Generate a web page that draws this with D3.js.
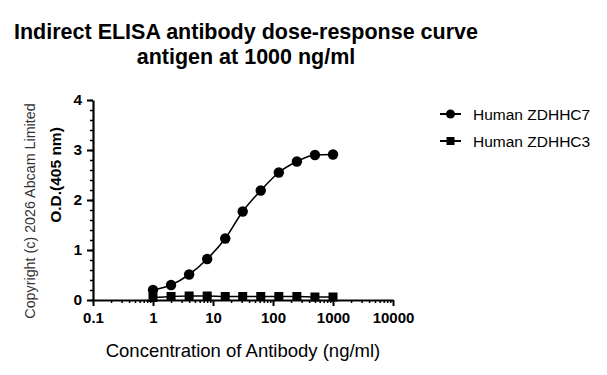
<!DOCTYPE html>
<html>
<head>
<meta charset="utf-8">
<script src="https://cdn.jsdelivr.net/npm/d3@7"></script>
<style>
  body { margin: 0; background: #fff; }
  svg { font-family: Arial, "Liberation Sans", sans-serif; }
</style>
</head>
<body>
<div id="chart"></div>
<script>
// data
const concentrations = [1, 2, 4, 8, 16, 31.25, 62.5, 125, 250, 500, 1000]
const zdhhc7 = [0.20, 0.30, 0.51, 0.82, 1.23, 1.77, 2.19, 2.55, 2.77, 2.90, 2.91]
const zdhhc3 = [0.05, 0.07, 0.08, 0.08, 0.07, 0.07, 0.07, 0.07, 0.07, 0.06, 0.06]
const seriesNames = ["Human ZDHHC7", "Human ZDHHC3"]
const xTicks = [0.1, 1, 10, 100, 1000, 10000]
const yTicks = [0, 1, 2, 3, 4]

const width = 607, height = 375
const margins = {top: 100, right: 214, bottom: 75, left: 93}
const boundedWidth = width - margins.left - margins.right
const boundedHeight = height - margins.top - margins.bottom

const svg = d3.select("#chart").append("svg")
  .attr("width", width)
  .attr("height", height)

// title
svg.append("text")
  .attr("x", 246).attr("y", 39)
  .attr("text-anchor", "middle")
  .style("font-weight", "bold").style("font-size", "21.5px")
  .text("Indirect ELISA antibody dose-response curve")
svg.append("text")
  .attr("x", 246).attr("y", 64)
  .attr("text-anchor", "middle")
  .style("font-weight", "bold").style("font-size", "21.5px")
  .text("antigen at 1000 ng/ml")

const bounds = svg.append("g")
  .attr("transform", `translate(${margins.left}, ${margins.top})`)

// scales
const xScale = d3.scaleLog().domain([0.1, 10000]).range([0, boundedWidth])
const yScale = d3.scaleLinear().domain([0, 4]).range([boundedHeight, 0])

// minor ticks
const xMinor = []
for (let e = -1; e < 4; e++) for (let m = 2; m <= 9; m++) xMinor.push(m * Math.pow(10, e))
const yMinor = d3.range(0, 4.01, 0.2)

bounds.append("g")
  .attr("transform", `translate(0, ${boundedHeight})`)
  .call(d3.axisBottom(xScale).tickValues(xMinor).tickSize(3).tickFormat(""))
  .call(g => g.select(".domain").remove())
  .selectAll("line").attr("stroke-width", 1.5)
bounds.append("g")
  .call(d3.axisLeft(yScale).tickValues(yMinor).tickSize(3).tickFormat(""))
  .call(g => g.select(".domain").remove())
  .selectAll("line").attr("stroke-width", 1.5)

const xAxis = bounds.append("g")
  .attr("transform", `translate(0, ${boundedHeight})`)
  .call(d3.axisBottom(xScale).tickValues(xTicks).tickSize(6).tickSizeOuter(0).tickPadding(6)
    .tickFormat(d => d3.format("~g")(d)))
xAxis.select(".domain").attr("stroke-width", 2.2)
xAxis.selectAll("line").attr("stroke-width", 2)
xAxis.selectAll("text").style("font-size", "15px").style("font-weight", "bold").attr("fill", "#000")

const yAxis = bounds.append("g")
  .call(d3.axisLeft(yScale).tickValues(yTicks).tickSize(6).tickSizeOuter(0).tickPadding(5)
    .tickFormat(d3.format("d")))
yAxis.select(".domain").attr("stroke-width", 2.2)
yAxis.selectAll("line").attr("stroke-width", 2)
yAxis.selectAll("text").style("font-size", "15.5px").style("font-weight", "bold").attr("fill", "#000")

// axis labels
svg.append("text")
  .attr("x", 243).attr("y", 357)
  .attr("text-anchor", "middle")
  .style("font-size", "18.5px")
  .text("Concentration of Antibody (ng/ml)")
svg.append("text")
  .attr("transform", "translate(61, 175) rotate(-90)")
  .attr("text-anchor", "middle")
  .style("font-size", "15.5px").style("font-weight", "bold")
  .text("O.D.(405 nm)")
svg.append("text")
  .attr("transform", "translate(35, 211) rotate(-90)")
  .attr("text-anchor", "middle")
  .style("font-size", "14.3px").attr("fill", "#333")
  .text("Copyright (c) 2026 Abcam Limited")

// lines
const line = d3.line()
  .x(d => xScale(d[0]))
  .y(d => yScale(d[1]))
  .curve(d3.curveMonotoneX)

const s7 = concentrations.map((c, i) => [c, zdhhc7[i]])
const s3 = concentrations.map((c, i) => [c, zdhhc3[i]])

bounds.append("path").datum(s3)
  .attr("d", line).attr("fill", "none").attr("stroke", "#000").attr("stroke-width", 1.5)
bounds.append("path").datum(s7)
  .attr("d", line).attr("fill", "none").attr("stroke", "#000").attr("stroke-width", 1.6)

bounds.selectAll("rect.pt").data(s3).enter().append("rect")
  .attr("class", "pt")
  .attr("x", d => xScale(d[0]) - 4.5).attr("y", d => yScale(d[1]) - 4.5)
  .attr("width", 9).attr("height", 9).attr("fill", "#000")

bounds.selectAll("circle.pt").data(s7).enter().append("circle")
  .attr("class", "pt")
  .attr("cx", d => xScale(d[0])).attr("cy", d => yScale(d[1]))
  .attr("r", 5.2).attr("fill", "#000")

// legend
const legend = svg.append("g").attr("transform", "translate(440, 114)")
seriesNames.forEach((name, i) => {
  const g = legend.append("g").attr("transform", `translate(0, ${i * 27})`)
  g.append("line").attr("x1", 0).attr("x2", 21).attr("stroke", "#000").attr("stroke-width", 2)
  if (i === 0) g.append("circle").attr("cx", 10.5).attr("r", 4.5)
  else g.append("rect").attr("x", 6.5).attr("y", -4).attr("width", 8).attr("height", 8)
  g.append("text").attr("x", 33).attr("y", 5.5)
    .style("font-size", "15.5px").text(name)
})
</script>
</body>
</html>
